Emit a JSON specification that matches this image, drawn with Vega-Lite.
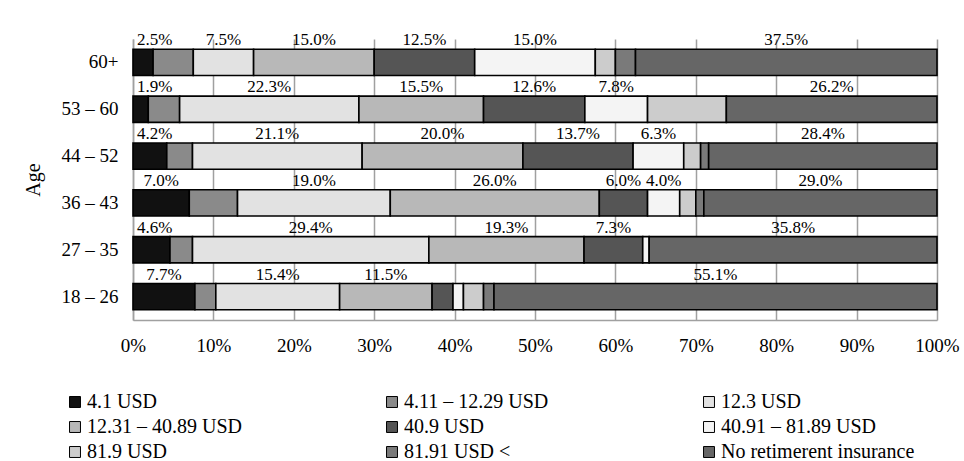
{
  "$schema": "https://vega.github.io/schema/vega-lite/v6.json",
  "width": 804,
  "height": 281,
  "autosize": {"type": "none"},
  "padding": {"left": 133, "top": 39, "right": 27, "bottom": 141},
  "background": "white",
  "config": {"font": "Liberation Serif", "view": {"stroke": null}},
  "data": {"values": [
    {"age": "60+", "i": 1, "cat": "4.1 USD", "v": 2.5},
    {"age": "60+", "i": 2, "cat": "4.11 – 12.29 USD", "v": 5.0},
    {"age": "60+", "i": 3, "cat": "12.3 USD", "v": 7.5},
    {"age": "60+", "i": 4, "cat": "12.31 – 40.89 USD", "v": 15.0},
    {"age": "60+", "i": 5, "cat": "40.9 USD", "v": 12.5},
    {"age": "60+", "i": 6, "cat": "40.91 – 81.89 USD", "v": 15.0},
    {"age": "60+", "i": 7, "cat": "81.9 USD", "v": 2.5},
    {"age": "60+", "i": 8, "cat": "81.91 USD <", "v": 2.5},
    {"age": "60+", "i": 9, "cat": "No retimerent insurance", "v": 37.5},
    {"age": "53 – 60", "i": 1, "cat": "4.1 USD", "v": 1.9},
    {"age": "53 – 60", "i": 2, "cat": "4.11 – 12.29 USD", "v": 3.9},
    {"age": "53 – 60", "i": 3, "cat": "12.3 USD", "v": 22.3},
    {"age": "53 – 60", "i": 4, "cat": "12.31 – 40.89 USD", "v": 15.5},
    {"age": "53 – 60", "i": 5, "cat": "40.9 USD", "v": 12.6},
    {"age": "53 – 60", "i": 6, "cat": "40.91 – 81.89 USD", "v": 7.8},
    {"age": "53 – 60", "i": 7, "cat": "81.9 USD", "v": 9.8},
    {"age": "53 – 60", "i": 8, "cat": "81.91 USD <", "v": 0},
    {"age": "53 – 60", "i": 9, "cat": "No retimerent insurance", "v": 26.2},
    {"age": "44 – 52", "i": 1, "cat": "4.1 USD", "v": 4.2},
    {"age": "44 – 52", "i": 2, "cat": "4.11 – 12.29 USD", "v": 3.2},
    {"age": "44 – 52", "i": 3, "cat": "12.3 USD", "v": 21.1},
    {"age": "44 – 52", "i": 4, "cat": "12.31 – 40.89 USD", "v": 20.0},
    {"age": "44 – 52", "i": 5, "cat": "40.9 USD", "v": 13.7},
    {"age": "44 – 52", "i": 6, "cat": "40.91 – 81.89 USD", "v": 6.3},
    {"age": "44 – 52", "i": 7, "cat": "81.9 USD", "v": 2.1},
    {"age": "44 – 52", "i": 8, "cat": "81.91 USD <", "v": 1.0},
    {"age": "44 – 52", "i": 9, "cat": "No retimerent insurance", "v": 28.4},
    {"age": "36 – 43", "i": 1, "cat": "4.1 USD", "v": 7.0},
    {"age": "36 – 43", "i": 2, "cat": "4.11 – 12.29 USD", "v": 6.0},
    {"age": "36 – 43", "i": 3, "cat": "12.3 USD", "v": 19.0},
    {"age": "36 – 43", "i": 4, "cat": "12.31 – 40.89 USD", "v": 26.0},
    {"age": "36 – 43", "i": 5, "cat": "40.9 USD", "v": 6.0},
    {"age": "36 – 43", "i": 6, "cat": "40.91 – 81.89 USD", "v": 4.0},
    {"age": "36 – 43", "i": 7, "cat": "81.9 USD", "v": 2.0},
    {"age": "36 – 43", "i": 8, "cat": "81.91 USD <", "v": 1.0},
    {"age": "36 – 43", "i": 9, "cat": "No retimerent insurance", "v": 29.0},
    {"age": "27 – 35", "i": 1, "cat": "4.1 USD", "v": 4.6},
    {"age": "27 – 35", "i": 2, "cat": "4.11 – 12.29 USD", "v": 2.8},
    {"age": "27 – 35", "i": 3, "cat": "12.3 USD", "v": 29.4},
    {"age": "27 – 35", "i": 4, "cat": "12.31 – 40.89 USD", "v": 19.3},
    {"age": "27 – 35", "i": 5, "cat": "40.9 USD", "v": 7.3},
    {"age": "27 – 35", "i": 6, "cat": "40.91 – 81.89 USD", "v": 0.8},
    {"age": "27 – 35", "i": 7, "cat": "81.9 USD", "v": 0},
    {"age": "27 – 35", "i": 8, "cat": "81.91 USD <", "v": 0},
    {"age": "27 – 35", "i": 9, "cat": "No retimerent insurance", "v": 35.8},
    {"age": "18 – 26", "i": 1, "cat": "4.1 USD", "v": 7.7},
    {"age": "18 – 26", "i": 2, "cat": "4.11 – 12.29 USD", "v": 2.6},
    {"age": "18 – 26", "i": 3, "cat": "12.3 USD", "v": 15.4},
    {"age": "18 – 26", "i": 4, "cat": "12.31 – 40.89 USD", "v": 11.5},
    {"age": "18 – 26", "i": 5, "cat": "40.9 USD", "v": 2.6},
    {"age": "18 – 26", "i": 6, "cat": "40.91 – 81.89 USD", "v": 1.3},
    {"age": "18 – 26", "i": 7, "cat": "81.9 USD", "v": 2.5},
    {"age": "18 – 26", "i": 8, "cat": "81.91 USD <", "v": 1.3},
    {"age": "18 – 26", "i": 9, "cat": "No retimerent insurance", "v": 55.1}
  ]},
  "transform": [
    {"stack": "v", "groupby": ["age"], "sort": [{"field": "i", "order": "ascending"}], "as": ["v0", "v1"]},
    {"calculate": "max((datum.v0 + datum.v1) / 2, 2.7)", "as": "mid"},
    {"calculate": "format(datum.v, '.1f') + '%'", "as": "lab"}
  ],
  "encoding": {
    "y": {
      "field": "age", "type": "nominal",
      "sort": ["60+", "53 – 60", "44 – 52", "36 – 43", "27 – 35", "18 – 26"],
      "scale": {"paddingInner": 0.44, "paddingOuter": 0.22},
      "axis": {
        "title": "Age", "ticks": false, "domainColor": "#a0a0a0", "domainWidth": 1.5,
        "labelFontSize": 19, "labelColor": "black", "labelPadding": 15, "labelFont": "Liberation Serif",
        "titleFontSize": 20, "titleFontWeight": "normal", "titleColor": "black", "titlePadding": 18, "titleFont": "Liberation Serif"
      }
    }
  },
  "layer": [
    {
      "transform": [{"filter": "datum.v > 0"}],
      "mark": {"type": "bar", "stroke": "black", "strokeWidth": 1.6},
      "encoding": {
        "x": {
          "field": "v0", "type": "quantitative", "scale": {"domain": [0, 100], "nice": false},
          "axis": {
            "title": null, "values": [0, 10, 20, 30, 40, 50, 60, 70, 80, 90, 100],
            "labelExpr": "datum.value + '%'", "ticks": false, "grid": true,
            "gridColor": "#a0a0a0", "gridWidth": 1.5, "domainColor": "#a0a0a0", "domainWidth": 1.5,
            "labelFontSize": 19, "labelColor": "black", "labelPadding": 16, "labelFlush": false,
            "labelOverlap": false, "labelFont": "Liberation Serif"
          }
        },
        "x2": {"field": "v1"},
        "fill": {
          "field": "cat", "type": "nominal",
          "scale": {
            "domain": ["4.1 USD", "4.11 – 12.29 USD", "12.3 USD", "12.31 – 40.89 USD", "40.9 USD", "40.91 – 81.89 USD", "81.9 USD", "81.91 USD <", "No retimerent insurance"],
            "range": ["#111111", "#8a8a8a", "#e2e2e2", "#b8b8b8", "#555555", "#f4f4f4", "#cccccc", "#7a7a7a", "#666666"]
          },
          "legend": {
            "title": null, "orient": "none", "legendX": -68, "legendY": 353, "direction": "horizontal",
            "columns": 3, "gridAlign": "all", "columnPadding": 101, "rowPadding": 5,
            "symbolType": "square", "symbolSize": 120, "symbolStrokeColor": "black", "symbolStrokeWidth": 1,
            "labelFontSize": 20, "labelLimit": 400, "labelOffset": 2, "labelColor": "black", "labelFont": "Liberation Serif"
          }
        }
      }
    },
    {
      "transform": [{"filter": "(indexof([1, 3, 4, 5, 6, 9], datum.i) >= 0 && datum.v >= 4) || datum.i == 1"}],
      "mark": {"type": "text", "fontSize": 17, "dy": -17, "baseline": "alphabetic", "color": "black", "font": "Liberation Serif"},
      "encoding": {
        "x": {"field": "mid", "type": "quantitative", "scale": {"domain": [0, 100], "nice": false}},
        "text": {"field": "lab", "type": "nominal"}
      }
    }
  ]
}
